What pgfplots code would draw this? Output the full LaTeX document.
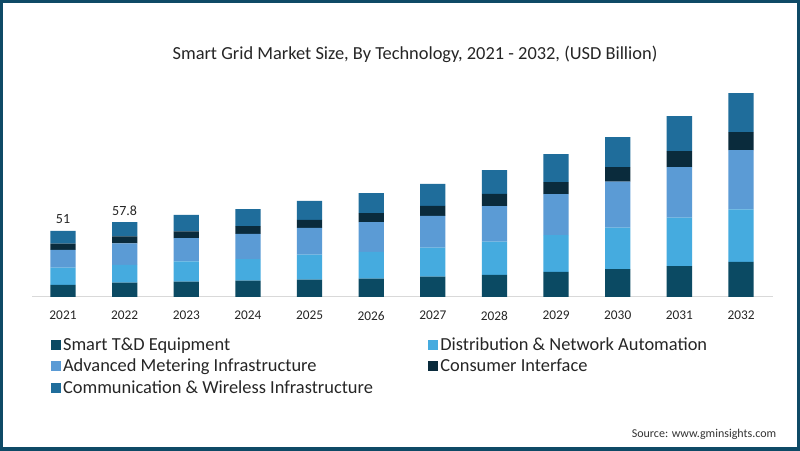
\documentclass[border=0pt]{standalone}
\usepackage{pgfplots}
\usepackage{pgfplotstable}
\pgfplotsset{compat=1.18}
\usepackage{fontspec}
\setmainfont{Carlito}
\definecolor{ctd}{HTML}{0B4A63}
\definecolor{cdist}{HTML}{45ABDF}
\definecolor{cami}{HTML}{5B9BD5}
\definecolor{cci}{HTML}{0A2B3C}
\definecolor{ccomm}{HTML}{1F6D9B}
\definecolor{cframe}{HTML}{0E4A66}
\pgfplotstableread{
x td dist ami ci comm
0 9.3 13.4 13.6 4.9 9.8
1 11.1 13.7 16.6 5.4 11.0
2 11.8 15.7 18.0 5.2 12.6
3 12.6 16.7 19.5 5.9 13.1
4 13.4 19.3 20.6 6.2 14.7
5 14.1 20.8 22.9 6.9 15.4
6 15.7 22.4 24.5 7.7 17.0
7 17.0 25.7 27.5 9.3 18.5
8 19.3 28.5 31.6 9.3 21.6
9 21.6 31.9 35.5 11.3 23.1
10 23.9 37.3 39.1 12.3 27.0
11 27.2 40.4 45.8 13.9 30.1
}\datatable
\begin{document}
\begin{tikzpicture}
\useasboundingbox (0,0) rectangle (600pt,337.5pt);
\fill[white] (0,0) rectangle (600pt,337.5pt);
\draw[cframe, line width=4.5pt] (0,0) rectangle (600pt,337.5pt);
\node[font=\fontsize{13.8}{16}\selectfont, text=black!85] at (311.25pt,297pt) {Smart Grid Market Size, By Technology, 2021 - 2032, (USD Billion)};
\node[anchor=east, font=\fontsize{9}{11}\selectfont, text=black!80] at (585.75pt,11.5pt) {Source: www.gminsights.com};
\begin{axis}[
  at={(24pt,114.75pt)}, anchor=south west,
  scale only axis, width=555.75pt, height=155.5pt,
  ybar stacked, bar width=0.41,
  ymin=0, ymax=160, xmin=-0.503, xmax=11.519,
  hide y axis,
  axis x line*=bottom,
  x axis line style={-, draw=black!15, line width=0.75pt},
  xtick={0,...,11},
  xticklabels={2021,2022,2023,2024,2025,2026,2027,2028,2029,2030,2031,2032},
  major tick length=0pt,
  xticklabel style={font=\fontsize{10}{12}\selectfont, text=black!85, yshift=-7pt},
  legend columns=2,
  legend style={at={(0.02,-0.172)}, anchor=north west, draw=none, fill=none,
    font=\fontsize{13.8}{16}\selectfont, text=black!85,
    /tikz/every even column/.append style={column sep=40pt},
    row sep=2pt, nodes={inner sep=1.5pt}},
  legend cell align=left,
  legend image code/.code={\fill[#1] (0pt,-3.75pt) rectangle (7.5pt,3.75pt);},
]
\addplot[fill=ctd, draw=none] table[x=x, y=td] {\datatable};
\addlegendentry{Smart T\&D Equipment}
\addplot[fill=cdist, draw=none] table[x=x, y=dist] {\datatable};
\addlegendentry{Distribution \& Network Automation}
\addplot[fill=cami, draw=none] table[x=x, y=ami] {\datatable};
\addlegendentry{Advanced Metering Infrastructure}
\addplot[fill=cci, draw=none] table[x=x, y=ci] {\datatable};
\addlegendentry{Consumer Interface}
\addplot[fill=ccomm, draw=none] table[x=x, y=comm] {\datatable};
\addlegendentry{Communication \& Wireless Infrastructure}
\node[anchor=south, inner sep=0pt, yshift=5pt, font=\fontsize{10.5}{12}\selectfont, text=black!85] at (axis cs:0,51) {51};
\node[anchor=south, inner sep=0pt, yshift=5pt, font=\fontsize{10.5}{12}\selectfont, text=black!85] at (axis cs:1,57.8) {57.8};
\end{axis}
\end{tikzpicture}
\end{document}
